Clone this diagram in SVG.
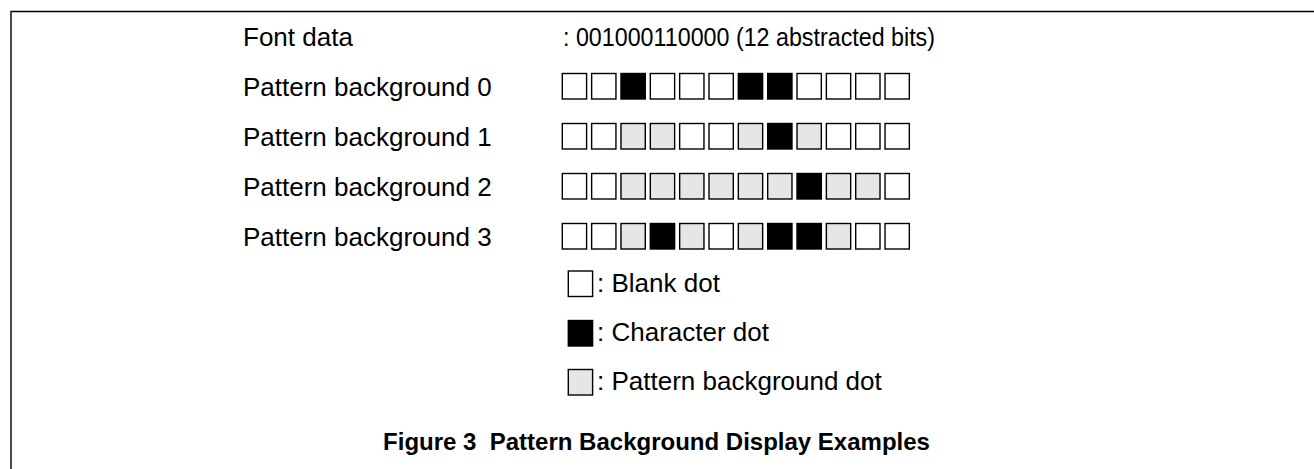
<svg xmlns="http://www.w3.org/2000/svg" width="1314" height="469" viewBox="0 0 1314 469">
<style>
text{font-family:"Liberation Sans",Arial,sans-serif;font-size:26px;fill:#000}
.t{font-weight:bold;font-size:24px}
.sq{stroke:#000;stroke-width:1.4}
.w{fill:#fff}.b{fill:#000}.g{fill:#e6e6e6}
.bg{fill:#fff;stroke:none}
.frame{fill:none;stroke:#000;stroke-width:1.4}
</style>
<rect class="bg" width="1314" height="469"/>
<path class="frame" d="M11,469 V11.5 H1314"/>
<g id="font-data">
<text x="243" y="46">Font data</text>
<text x="563" y="46" textLength="372" lengthAdjust="spacingAndGlyphs">: 001000110000 (12 abstracted bits)</text>
</g>
<defs>
<rect id="w" class="sq w" width="24.3" height="25.5"/>
<rect id="b" class="sq b" width="24.3" height="25.5"/>
<rect id="g" class="sq g" width="24.3" height="25.5"/>
</defs>
<g id="row0">
<text x="243" y="96">Pattern background 0</text>
<g transform="translate(562.3,73.5)">
<use href="#w" x="0"/><use href="#w" x="29.34"/><use href="#b" x="58.68"/><use href="#w" x="88.02"/><use href="#w" x="117.36"/><use href="#w" x="146.7"/><use href="#b" x="176.04"/><use href="#b" x="205.38"/><use href="#w" x="234.72"/><use href="#w" x="264.06"/><use href="#w" x="293.4"/><use href="#w" x="322.74"/>
</g>
</g>
<g id="row1">
<text x="243" y="146">Pattern background 1</text>
<g transform="translate(562.3,123.5)">
<use href="#w" x="0"/><use href="#w" x="29.34"/><use href="#g" x="58.68"/><use href="#g" x="88.02"/><use href="#w" x="117.36"/><use href="#w" x="146.7"/><use href="#g" x="176.04"/><use href="#b" x="205.38"/><use href="#g" x="234.72"/><use href="#w" x="264.06"/><use href="#w" x="293.4"/><use href="#w" x="322.74"/>
</g>
</g>
<g id="row2">
<text x="243" y="196">Pattern background 2</text>
<g transform="translate(562.3,173.5)">
<use href="#w" x="0"/><use href="#w" x="29.34"/><use href="#g" x="58.68"/><use href="#g" x="88.02"/><use href="#g" x="117.36"/><use href="#g" x="146.7"/><use href="#g" x="176.04"/><use href="#g" x="205.38"/><use href="#b" x="234.72"/><use href="#g" x="264.06"/><use href="#g" x="293.4"/><use href="#w" x="322.74"/>
</g>
</g>
<g id="row3">
<text x="243" y="246">Pattern background 3</text>
<g transform="translate(562.3,223.5)">
<use href="#w" x="0"/><use href="#w" x="29.34"/><use href="#g" x="58.68"/><use href="#b" x="88.02"/><use href="#g" x="117.36"/><use href="#w" x="146.7"/><use href="#g" x="176.04"/><use href="#b" x="205.38"/><use href="#b" x="234.72"/><use href="#g" x="264.06"/><use href="#w" x="293.4"/><use href="#w" x="322.74"/>
</g>
</g>
<g id="legend-blank">
<use href="#w" x="568.3" y="271"/>
<text x="597" y="292">: Blank dot</text>
</g>
<g id="legend-char">
<use href="#b" x="568.3" y="320.5"/>
<text x="597" y="341">: Character dot</text>
</g>
<g id="legend-bg">
<use href="#g" x="568.3" y="369.5"/>
<text x="597" y="390">: Pattern background dot</text>
</g>
<g id="caption">
<text class="t" x="656.5" y="450" text-anchor="middle" xml:space="preserve">Figure 3  Pattern Background Display Examples</text>
</g>
</svg>
